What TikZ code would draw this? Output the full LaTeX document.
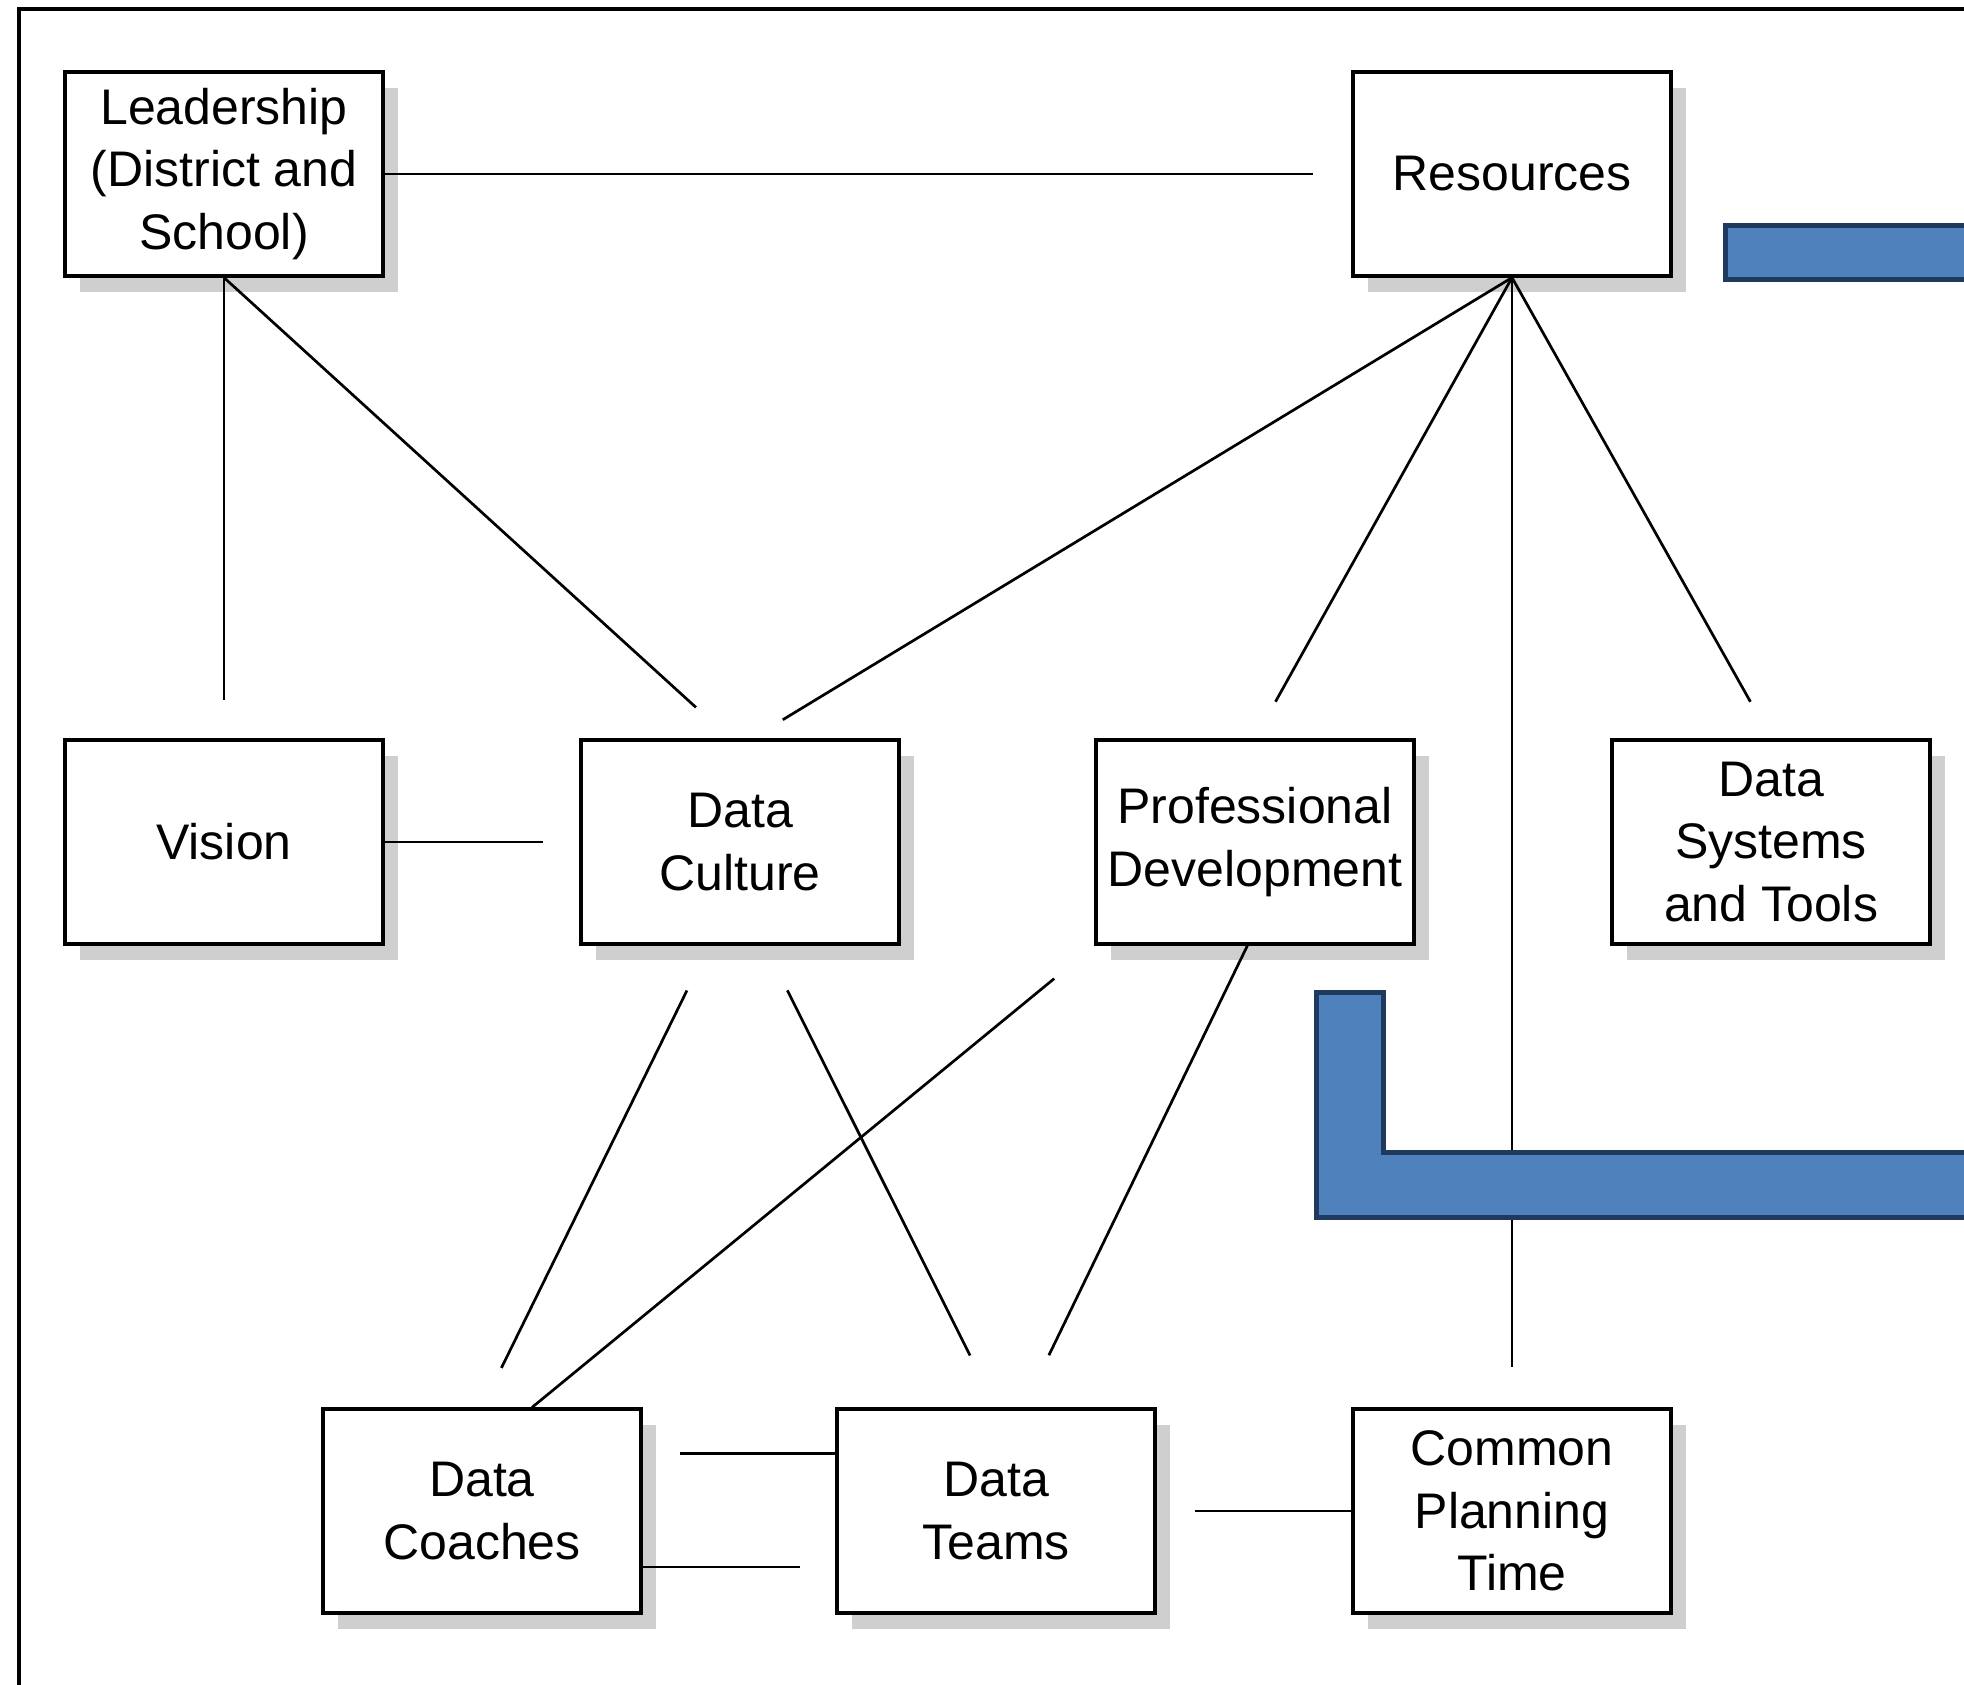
\documentclass[tikz,border=0pt]{standalone}
\usepackage{fontspec}
\setmainfont{Liberation Sans}
\usetikzlibrary{shadows}
\definecolor{shadowgray}{HTML}{CFCFCF}
\definecolor{barblue}{HTML}{4F81BD}
\definecolor{bardark}{HTML}{1F3A5F}
\begin{document}
\begin{tikzpicture}[x=0.5pt,y=-0.5pt,
  box/.style={draw=black, line width=1.6pt, fill=white, minimum width=159pt, minimum height=102pt,
    inner sep=0pt, align=center, font=\fontsize{25}{31.3}\selectfont,
    drop shadow={shadow xshift=7.5pt, shadow yshift=-8pt, fill=shadowgray, opacity=1}},
  link/.style={line width=1.35pt},
  bar/.style={fill=barblue, draw=bardark, line width=2.5pt}]
\useasboundingbox (0,0) rectangle (1964,1685);
\fill[white] (0,0) rectangle (1964,1685);
% frame (cut at right and bottom)
\draw[line width=2.2pt] (19,1700) -- (19,9) -- (1980,9);
% boxes
\node[box] (lead) at (224,174) {Leadership\\(District and\\School)};
\node[box] (res) at (1512,174) {Resources};
\node[box] (vis) at (224,842) {Vision};
\node[box] (dc) at (740,842) {Data\\Culture};
\node[box] (pd) at (1255,842) {Professional\\Development};
\node[box] (dst) at (1771,842) {Data\\Systems\\and Tools};
\node[box] (dco) at (482,1511) {Data\\Coaches};
\node[box] (dt) at (996,1511) {Data\\Teams};
\node[box] (cpt) at (1512,1511) {Common\\Planning\\Time};
% connectors
\draw[link, shorten >=19pt] (lead.east) -- (res.west);
\draw[link, shorten >=19pt] (lead.south) -- (vis.north);
\draw[link, shorten >=23pt] (lead.south) -- ([xshift=-5pt]dc.north);
\draw[link, shorten >=18pt] (res.south) -- ([xshift=6pt]dc.north);
\draw[link, shorten >=21pt] (res.south) -- (pd.north);
\draw[link, shorten >=21pt] (res.south) -- (dst.north);
\draw[link, shorten >=20pt] (res.south) -- (cpt.north);
\draw[link, shorten >=18pt] (vis.east) -- (dc.west);
\draw[link, shorten <=25pt, shorten >=22pt] ([xshift=-15.5pt]dc.south) -- (dco.north);
\draw[link, shorten <=25pt, shorten >=29pt] ([xshift=12.5pt]dc.south) -- (dt.north);
\draw[link, shorten <=26pt] (pd.south west) -- ([xshift=25pt]dco.north);
\draw[link, shorten >=29pt] ([xshift=-3.8pt]pd.south) -- ([xshift=13.8pt]dt.north);
\draw[link, shorten <=18.8pt] ([yshift=28.8pt]dco.east) -- ([yshift=28.8pt]dt.west);
\draw[link, shorten >=17.5pt] ([yshift=-28pt]dco.east) -- ([yshift=-28pt]dt.west);
\draw[link, shorten <=19.4pt] (dt.east) -- (cpt.west);
% blue bars
\draw[bar] (1725,226) rectangle (1985,280);
\draw[bar] (1316,992) -- (1383,992) -- (1383,1152) -- (1985,1152) -- (1985,1217) -- (1316,1217) -- cycle;
\end{tikzpicture}
\end{document}
